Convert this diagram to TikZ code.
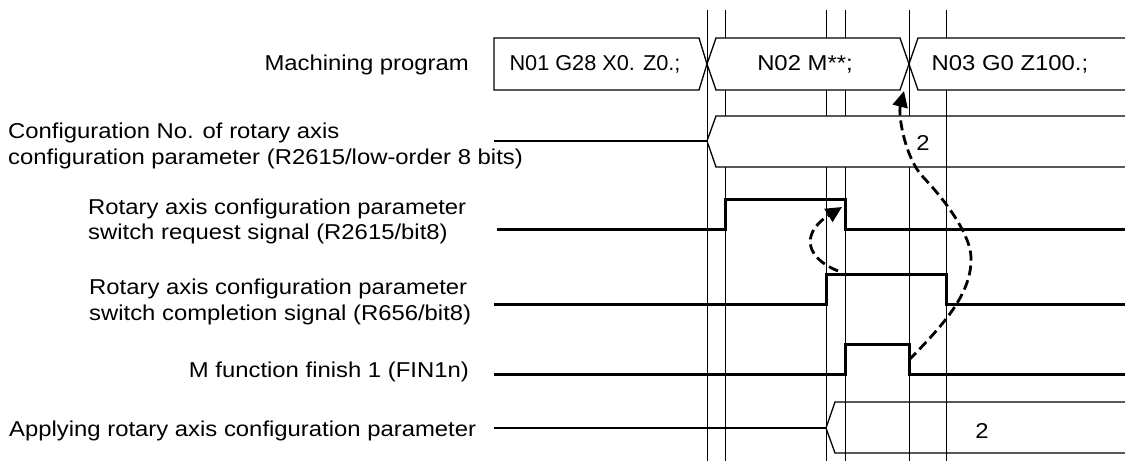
\documentclass[tikz,border=0pt]{standalone}
\usepackage{fontspec}
\usepackage{graphicx}
\setmainfont{Liberation Sans}[FakeStretch=1.11]
\usetikzlibrary{arrows.meta}
\tikzset{
  lab/.style={inner sep=0pt, font=\fontsize{21.5}{26}\selectfont},
  sig/.style={line width=3pt, line join=miter, line cap=butt},
  thinl/.style={line width=1.3pt},
  vline/.style={line width=0.9pt},
  dasharrow/.style={line width=2.8pt, dash pattern=on 10pt off 5pt, -{Triangle[length=16pt,width=15pt]}},
}
\begin{document}
\begin{tikzpicture}[x=1pt,y=-1pt]
\useasboundingbox (0,0) rectangle (1125,461);
% vertical timing lines
\foreach \xx in {707,725,826,845,909,946}
  \draw[vline] (\xx,10) -- (\xx,461);
% machining program blocks
\path[fill=white] (494,38) -- (699,38) -- (707,64) -- (699,90) -- (494,90) -- cycle;
\draw[thinl] (494,38) -- (699,38) -- (707,64) -- (699,90) -- (494,90) -- cycle;
\path[fill=white] (716,38) -- (900,38) -- (909,64) -- (900,90) -- (716,90) -- (707,64) -- cycle;
\draw[thinl] (716,38) -- (900,38) -- (909,64) -- (900,90) -- (716,90) -- (707,64) -- cycle;
\path[fill=white] (1126,38) -- (918,38) -- (909,64) -- (918,90) -- (1126,90) -- cycle;
\draw[thinl] (1126,38) -- (918,38) -- (909,64) -- (918,90) -- (1126,90);
% configuration number band
\path[fill=white] (707,141) -- (716,116) -- (1126,116) -- (1126,167) -- (716,167) -- cycle;
\draw[thinl] (494,141) -- (707,141);
\draw[thinl] (1126,116) -- (716,116) -- (707,141) -- (716,167) -- (1126,167);
\draw[vline] (946,116) -- (946,167);
% request signal
\draw[sig] (497,229) -- (725,229) -- (725,199) -- (845,199) -- (845,229) -- (1126,229);
% completion signal
\draw[sig] (494,304) -- (826,304) -- (826,274) -- (946,274) -- (946,304) -- (1126,304);
% FIN1n
\draw[sig] (494,374) -- (845,374) -- (845,344) -- (909,344) -- (909,374) -- (1126,374);
% applying band
\draw[thinl] (494,428) -- (826,428);
\draw[thinl] (1126,402) -- (835,402) -- (826,428) -- (835,453) -- (1126,453);
% texts
\node[lab, anchor=base east] (mp) at (469,70) {Machining program};
\node[lab, anchor=base] (b1) at (595,70) {\scalebox{0.91}[1]{N01 G28 X0. Z0.;}};
\node[lab, anchor=base] (b2) at (805,70) {N02 M**;};
\node[lab, anchor=base] (b3) at (1010,70) {N03 G0 Z100.;};
\node[lab, anchor=base west] (c1) at (8,138) {Configuration No. of rotary axis};
\node[lab, anchor=base west] (c2) at (8,164) {configuration parameter (R2615/low-order 8 bits)};
\node[lab, anchor=base] (cv) at (923,150) {2};
\node[lab, anchor=base west] (r1) at (88,214) {Rotary axis configuration parameter};
\node[lab, anchor=base west] (r2) at (88,239) {switch request signal (R2615/bit8)};
\node[lab, anchor=base west] (s1) at (89,294) {Rotary axis configuration parameter};
\node[lab, anchor=base west] (s2) at (89,320) {switch completion signal (R656/bit8)};
\node[lab, anchor=base east] (f1) at (469,377) {M function finish 1 (FIN1n)};
\node[lab, anchor=base west] (a1) at (9,436) {Applying rotary axis configuration parameter};
\node[lab, anchor=base] (av) at (982,438) {2};
% dashed arrows
\coordinate (fA) at (909,360);
\coordinate (tA) at (904,91);
\draw[dasharrow] (fA) .. controls (940,328) and (972,295) .. (971,258)
  .. controls (971,235) and (945,200) .. (923,177)
  .. controls (905,158) and (898,115) .. (tA);
\coordinate (fB) at (838,271);
\coordinate (tB) at (842,207);
\draw[dasharrow] (fB) .. controls (800,255) and (805,230) .. (tB);
\end{tikzpicture}
\end{document}
